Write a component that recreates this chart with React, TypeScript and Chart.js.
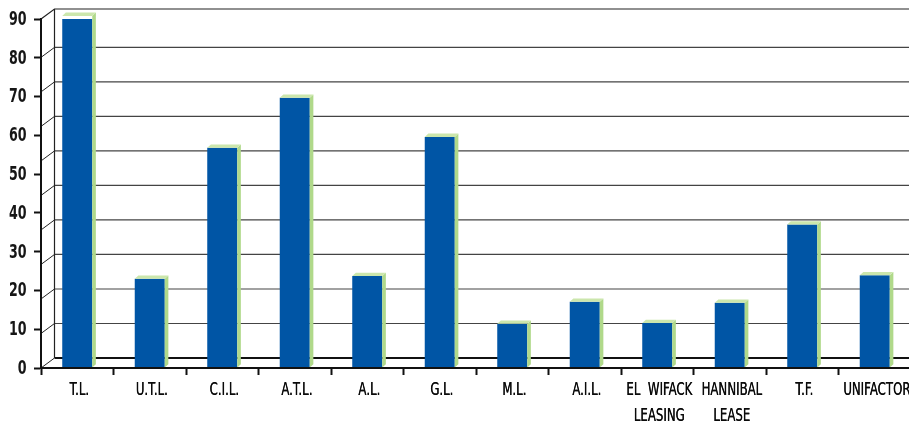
import { useEffect, useRef } from "react";
import { Chart, registerables } from "chart.js";

Chart.register(...registerables);

const categories: (string | string[])[] = [
  "T.L.",
  "U.T.L.",
  "C.I.L.",
  "A.T.L.",
  "A.L.",
  "G.L.",
  "M.L.",
  "A.I.L.",
  ["EL  WIFACK", "LEASING"],
  ["HANNIBAL", "LEASE"],
  "T.F.",
  "UNIFACTOR",
];
const values = [90.8, 23, 56.8, 69.7, 23.7, 59.6, 11.4, 17.1, 11.6, 16.8, 37, 23.9];
const yMin = 0;
const yMax = 90;
const yStep = 10;
const gridValues = [0, 8.9, 17.8, 26.7, 35.6, 44.5, 53.4, 62.3, 71.2, 80.1];
const wallTopValue = 90;

const WALL_DX = 13.5;
const WALL_DY = 10;
const BAR_DX = 3.6;
const BAR_DY = 3.3;
const FONT = "'DejaVu Sans Condensed', 'DejaVu Sans', sans-serif";

const wallPlugin = {
  id: "wall3d",
  beforeDatasetsDraw(chart: any) {
    const { ctx, chartArea, scales } = chart;
    const y = scales.y;
    const left = chartArea.left;
    const right = chart.width;
    const bx = left + WALL_DX;
    ctx.save();
    ctx.lineCap = "butt";
    gridValues.forEach((v, i) => {
      const fy = y.getPixelForValue(v);
      const by = fy - WALL_DY;
      ctx.strokeStyle = i === 0 ? "#111" : "#444";
      ctx.lineWidth = i === 0 ? 2 : 1.2;
      ctx.beginPath();
      ctx.moveTo(bx, by);
      ctx.lineTo(right, by);
      ctx.stroke();
      ctx.lineWidth = 1;
      ctx.strokeStyle = "#222";
      ctx.beginPath();
      ctx.moveTo(left, fy);
      ctx.lineTo(bx, by);
      ctx.stroke();
    });
    const ty = y.getPixelForValue(wallTopValue);
    ctx.strokeStyle = "#222";
    ctx.lineWidth = 1.2;
    ctx.beginPath();
    ctx.moveTo(left, ty);
    ctx.lineTo(bx, ty - WALL_DY);
    ctx.lineTo(right, ty - WALL_DY);
    ctx.stroke();
    ctx.beginPath();
    ctx.moveTo(bx, ty - WALL_DY);
    ctx.lineTo(bx, y.getPixelForValue(yMin) - WALL_DY);
    ctx.stroke();
    ctx.restore();
  },
  afterDatasetsDraw(chart: any) {
    const { ctx } = chart;
    const meta = chart.getDatasetMeta(0);
    ctx.save();
    meta.data.forEach((el: any) => {
      const { x, y, base, width } = el.getProps(["x", "y", "base", "width"], true);
      const l = x - width / 2;
      const r = x + width / 2;
      ctx.fillStyle = "#b0d98a";
      ctx.beginPath();
      ctx.moveTo(r, y);
      ctx.lineTo(r + BAR_DX, y - BAR_DY);
      ctx.lineTo(r + BAR_DX, base - BAR_DY);
      ctx.lineTo(r, base);
      ctx.closePath();
      ctx.fill();
      ctx.fillStyle = "#cbe6ac";
      ctx.beginPath();
      ctx.moveTo(l, y);
      ctx.lineTo(l + BAR_DX, y - BAR_DY);
      ctx.lineTo(r + BAR_DX, y - BAR_DY);
      ctx.lineTo(r, y);
      ctx.closePath();
      ctx.fill();
    });
    ctx.restore();
  },
};

// Draws the scale tick labels in a condensed face (horizontally compressed text).
const labelPlugin = {
  id: "condensedLabels",
  afterDraw(chart: any) {
    const { ctx, chartArea, scales } = chart;
    const x = scales.x;
    const y = scales.y;
    ctx.save();
    ctx.fillStyle = "#161616";
    ctx.font = `bold 19px ${FONT}`;
    ctx.textBaseline = "middle";
    ctx.textAlign = "right";
    y.ticks.forEach((t: any) => {
      const py = y.getPixelForValue(t.value);
      ctx.save();
      ctx.translate(chartArea.left - 14.5, py + 1);
      ctx.scale(0.74, 1);
      ctx.fillText(String(t.label), 0, 0);
      ctx.restore();
    });
    ctx.fillStyle = "#0a0a0a";
    ctx.font = `17px ${FONT}`;
    ctx.textBaseline = "alphabetic";
    ctx.textAlign = "center";
    (chart.data.labels as (string | string[])[]).forEach((c, i) => {
      const lines = Array.isArray(c) ? c : [c];
      const px = x.getPixelForValue(i) + 2;
      lines.forEach((ln, j) => {
        ctx.save();
        ctx.translate(px, chartArea.bottom + 27 + j * 25.5);
        ctx.scale(0.77, 1);
        ctx.fillText(ln, 0, 0);
        ctx.fillText(ln, 0.35, 0);
        ctx.restore();
      });
    });
    ctx.restore();
  },
};

export default function App() {
  const ref = useRef<HTMLCanvasElement>(null);
  useEffect(() => {
    if (!ref.current) return;
    const chart = new Chart(ref.current, {
      type: "bar",
      data: {
        labels: categories as any,
        datasets: [
          {
            data: values,
            backgroundColor: "#0055A5",
            borderWidth: 0,
            barPercentage: 0.414,
            categoryPercentage: 1,
          },
        ],
      },
      options: {
        animation: false,
        responsive: false,
        maintainAspectRatio: false,
        layout: { padding: { top: 19, left: 0, right: 0, bottom: 0 } },
        plugins: { legend: { display: false }, tooltip: { enabled: false } },
        scales: {
          x: {
            afterFit: (s: any) => {
              s.height = 57;
            },
            grid: {
              display: true,
              drawOnChartArea: false,
              drawTicks: true,
              tickLength: 7,
              tickColor: "#111",
              tickWidth: 2,
              offset: true,
            },
            border: { display: true, color: "#111", width: 2, z: 1 },
            ticks: { display: false, autoSkip: false, maxRotation: 0 },
          },
          y: {
            min: yMin,
            max: yMax,
            afterFit: (s: any) => {
              s.width = 41;
            },
            grid: {
              display: true,
              drawOnChartArea: false,
              drawTicks: true,
              tickLength: 7,
              tickColor: "#111",
              tickWidth: 2,
            },
            border: { display: true, color: "#111", width: 2, z: 1 },
            ticks: { display: false, stepSize: yStep },
          },
        },
      },
      plugins: [wallPlugin, labelPlugin],
    });
    return () => chart.destroy();
  }, []);
  return (
    <div
      style={{
        position: "fixed",
        left: 0,
        top: 0,
        width: 909,
        height: 425,
        overflow: "hidden",
        background: "#fff",
      }}
    >
      <canvas ref={ref} width={911} height={425} style={{ width: 911, height: 425, display: "block" }} />
    </div>
  );
}
